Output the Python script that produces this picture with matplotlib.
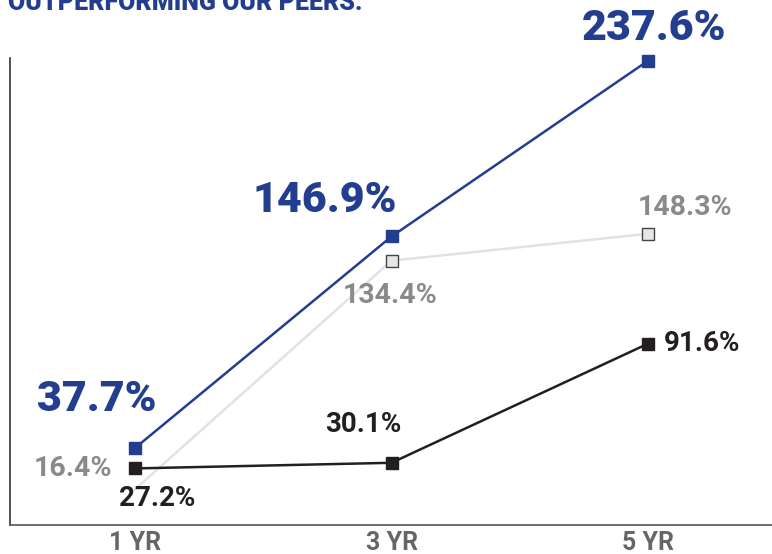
import matplotlib.pyplot as plt

periods = ["1 YR", "3 YR", "5 YR"]
fund = [37.7, 146.9, 237.6]
peers = [16.4, 134.4, 148.3]
index = [27.2, 30.1, 91.6]

blue = "#233E8E"
dark = "#231F20"
grey_txt = "#8A8A8A"
grey_line = "#E2E2E2"

plt.rcParams['font.family'] = ['Roboto', 'DejaVu Sans']

fig = plt.figure(figsize=(7.72, 5.54), dpi=100)
ax = fig.add_axes([10 / 772, 29 / 554, 762 / 772, 467 / 554])

x = list(range(len(periods)))

# first peer marker sits under the index marker in the original
ax.plot(x, peers, color=grey_line, lw=1.8, marker="s", ms=8, markevery=[1, 2],
        mfc="#E6E6E6", mec="#444444", mew=1, clip_on=False, zorder=2)
ax.plot(x, index, color=dark, lw=1.8, marker="s", ms=9,
        mfc=dark, mec=dark, clip_on=False, zorder=3)
ax.plot(x, fund, color=blue, lw=1.8, marker="s", ms=9,
        mfc=blue, mec=blue, clip_on=False, zorder=4)

# label offsets in pixels relative to each point
fund_off = [(-38, 49, "center"), (-67, 36, "center"), (6, 32, "center")]
peer_off = [(-23, 21, "right"), (-1, -35, "center"), (37, 26, "center")]
idx_off = [(22, -30, "center"), (-28, 38, "center"), (16, 0, "left")]

def lab(vals, offs, color, size, weight="bold"):
    for xi, v, (dx, dy, ha) in zip(x, vals, offs):
        ax.annotate(f"{v:.1f}%", (xi, v), xytext=(dx, dy), textcoords="offset pixels",
                    ha=ha, va="center", color=color, fontsize=size, fontweight=weight,
                    annotation_clip=False)

lab(fund, fund_off, blue, 31, "black")
lab(peers, peer_off, grey_txt, 20.5)
lab(index, idx_off, dark, 20)

ax.set_xlim(-0.487, 2.483)
ax.set_ylim(-2, 239)
ax.set_xticks(x)
ax.set_xticklabels(periods, color="#666666", fontsize=18, fontweight="bold")
ax.tick_params(axis="x", length=0, pad=4)
ax.set_yticks([])
for s in ["top", "right"]:
    ax.spines[s].set_visible(False)
ax.spines["left"].set_color("#333333")
ax.spines["bottom"].set_color("#555555")
ax.spines["left"].set_linewidth(1.2)
ax.spines["bottom"].set_linewidth(1.2)

fig.text(8 / 772, 1 - 10 / 554, "OUTPERFORMING OUR PEERS.", color=blue,
         fontsize=18, fontweight="black", va="baseline", ha="left")

fig.savefig("out.png", dpi=100)
